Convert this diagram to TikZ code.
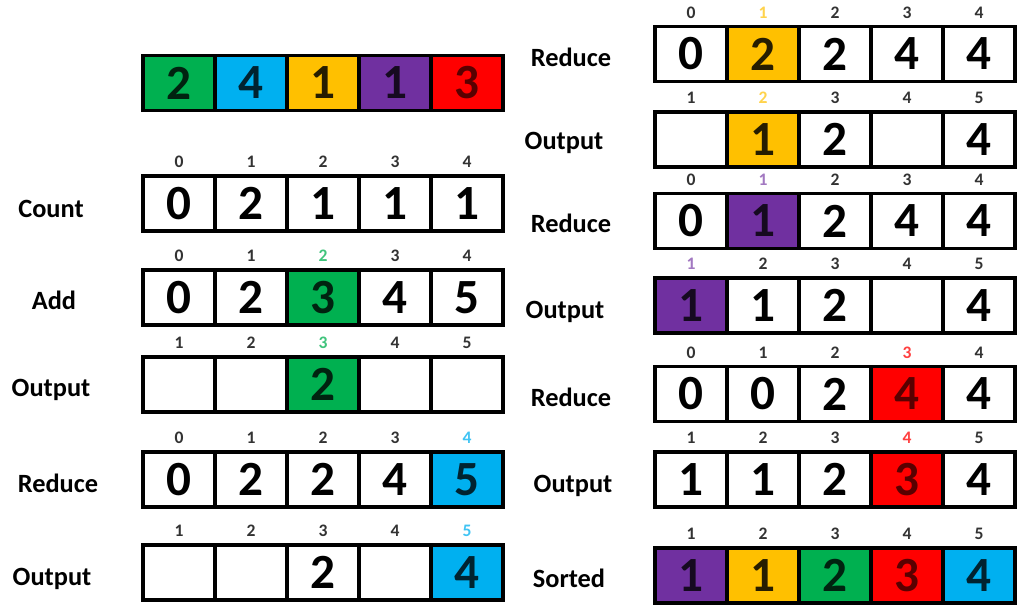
\documentclass[tikz,border=0pt]{standalone}
\usepackage{fontspec}
\setmainfont{Carlito}

\definecolor{cw}{HTML}{FFFFFF}
\definecolor{cg}{HTML}{00B050}
\definecolor{cb}{HTML}{00B0F0}
\definecolor{cy}{HTML}{FFC000}
\definecolor{cp}{HTML}{7030A0}
\definecolor{cr}{HTML}{FF0000}
\colorlet{cwT}{black}
\colorlet{cgT}{black!80!cg}
\colorlet{cbT}{black!80!cb}
\colorlet{cyT}{black!85!cy}
\colorlet{cpT}{black!80!cp}
\colorlet{crT}{black!65!cr}
\colorlet{ix}{black!80}
\colorlet{ixg}{cg!75!white}
\colorlet{ixb}{cb!75!white}
\colorlet{ixy}{cy!70!white}
\colorlet{ixp}{cp!65!white}
\colorlet{ixr}{cr!75!white}

\newcommand{\cellrow}[4]{%
    \foreach \val/\col/\ix/\ixcol [count=\k] in {#4} {
        \node[cell, fill=\col, text=\col T] (#1-\k) at ({#2+72*(\k-1)}, #3) {\val};
        \node[idx, text=\ixcol] (#1-i\k) at ({#2+72*(\k-1)}, #3-41.5) {\ix};
    }}

\begin{document}
\begin{tikzpicture}[x=0.02cm, y=-0.02cm,
    cell/.style={draw, line width=2pt, minimum width=1.44cm, minimum height=1.1cm, inner sep=0pt,
        font=\bfseries\fontsize{28}{28}\selectfont},
    idx/.style={inner sep=0pt, font=\bfseries\fontsize{10}{10}\selectfont},
    lbl/.style={anchor=base, inner sep=0pt, font=\bfseries\fontsize{15}{15}\selectfont}]

    \fill[white] (0,0) rectangle (1022,611);

    % input
    \foreach \val/\col [count=\k] in {2/cg,4/cb,1/cy,1/cp,3/cr}
        \node[cell, fill=\col, text=\col T] (in-\k) at ({179+72*(\k-1)}, 83) {\val};

    % left column
    \cellrow{cnt}{179}{203.5}{0/cw/0/ix, 2/cw/1/ix, 1/cw/2/ix, 1/cw/3/ix, 1/cw/4/ix}
    \cellrow{add}{179}{297.5}{0/cw/0/ix, 2/cw/1/ix, 3/cg/2/ixg, 4/cw/3/ix, 5/cw/4/ix}
    \cellrow{outa}{179}{384.5}{{}/cw/1/ix, {}/cw/2/ix, 2/cg/3/ixg, {}/cw/4/ix, {}/cw/5/ix}
    \cellrow{reda}{179}{479.5}{0/cw/0/ix, 2/cw/1/ix, 2/cw/2/ix, 4/cw/3/ix, 5/cb/4/ixb}
    \cellrow{outb}{179}{572.5}{{}/cw/1/ix, {}/cw/2/ix, 2/cw/3/ix, {}/cw/4/ix, 4/cb/5/ixb}

    % right column
    \cellrow{redb}{691}{54}{0/cw/0/ix, 2/cy/1/ixy, 2/cw/2/ix, 4/cw/3/ix, 4/cw/4/ix}
    \cellrow{outc}{691}{139.5}{{}/cw/1/ix, 1/cy/2/ixy, 2/cw/3/ix, {}/cw/4/ix, 4/cw/5/ix}
    \cellrow{redc}{691}{221}{0/cw/0/ix, 1/cp/1/ixp, 2/cw/2/ix, 4/cw/3/ix, 4/cw/4/ix}
    \cellrow{outd}{691}{305.5}{1/cp/1/ixp, 1/cw/2/ix, 2/cw/3/ix, {}/cw/4/ix, 4/cw/5/ix}
    \cellrow{redd}{691}{394}{0/cw/0/ix, 0/cw/1/ix, 2/cw/2/ix, 4/cr/3/ixr, 4/cw/4/ix}
    \cellrow{oute}{691}{479.5}{1/cw/1/ix, 1/cw/2/ix, 2/cw/3/ix, 3/cr/4/ixr, 4/cw/5/ix}
    \cellrow{srt}{691}{575.5}{1/cp/1/ix, 1/cy/2/ix, 2/cg/3/ix, 3/cr/4/ix, 4/cb/5/ix}

    % row labels
    \node[lbl] (l-cnt) at (51,218) {Count};
    \node[lbl] (l-add) at (54,310) {Add};
    \node[lbl] (l-outa) at (51,397) {Output};
    \node[lbl] (l-reda) at (58,493) {Reduce};
    \node[lbl] (l-outb) at (52,585) {Output};
    \node[lbl] (l-redb) at (571,67) {Reduce};
    \node[lbl] (l-outc) at (564,150) {Output};
    \node[lbl] (l-redc) at (571,233) {Reduce};
    \node[lbl] (l-outd) at (565,319) {Output};
    \node[lbl] (l-redd) at (571,407) {Reduce};
    \node[lbl] (l-oute) at (573,493) {Output};
    \node[lbl] (l-srt) at (569,587) {Sorted};
\end{tikzpicture}
\end{document}
